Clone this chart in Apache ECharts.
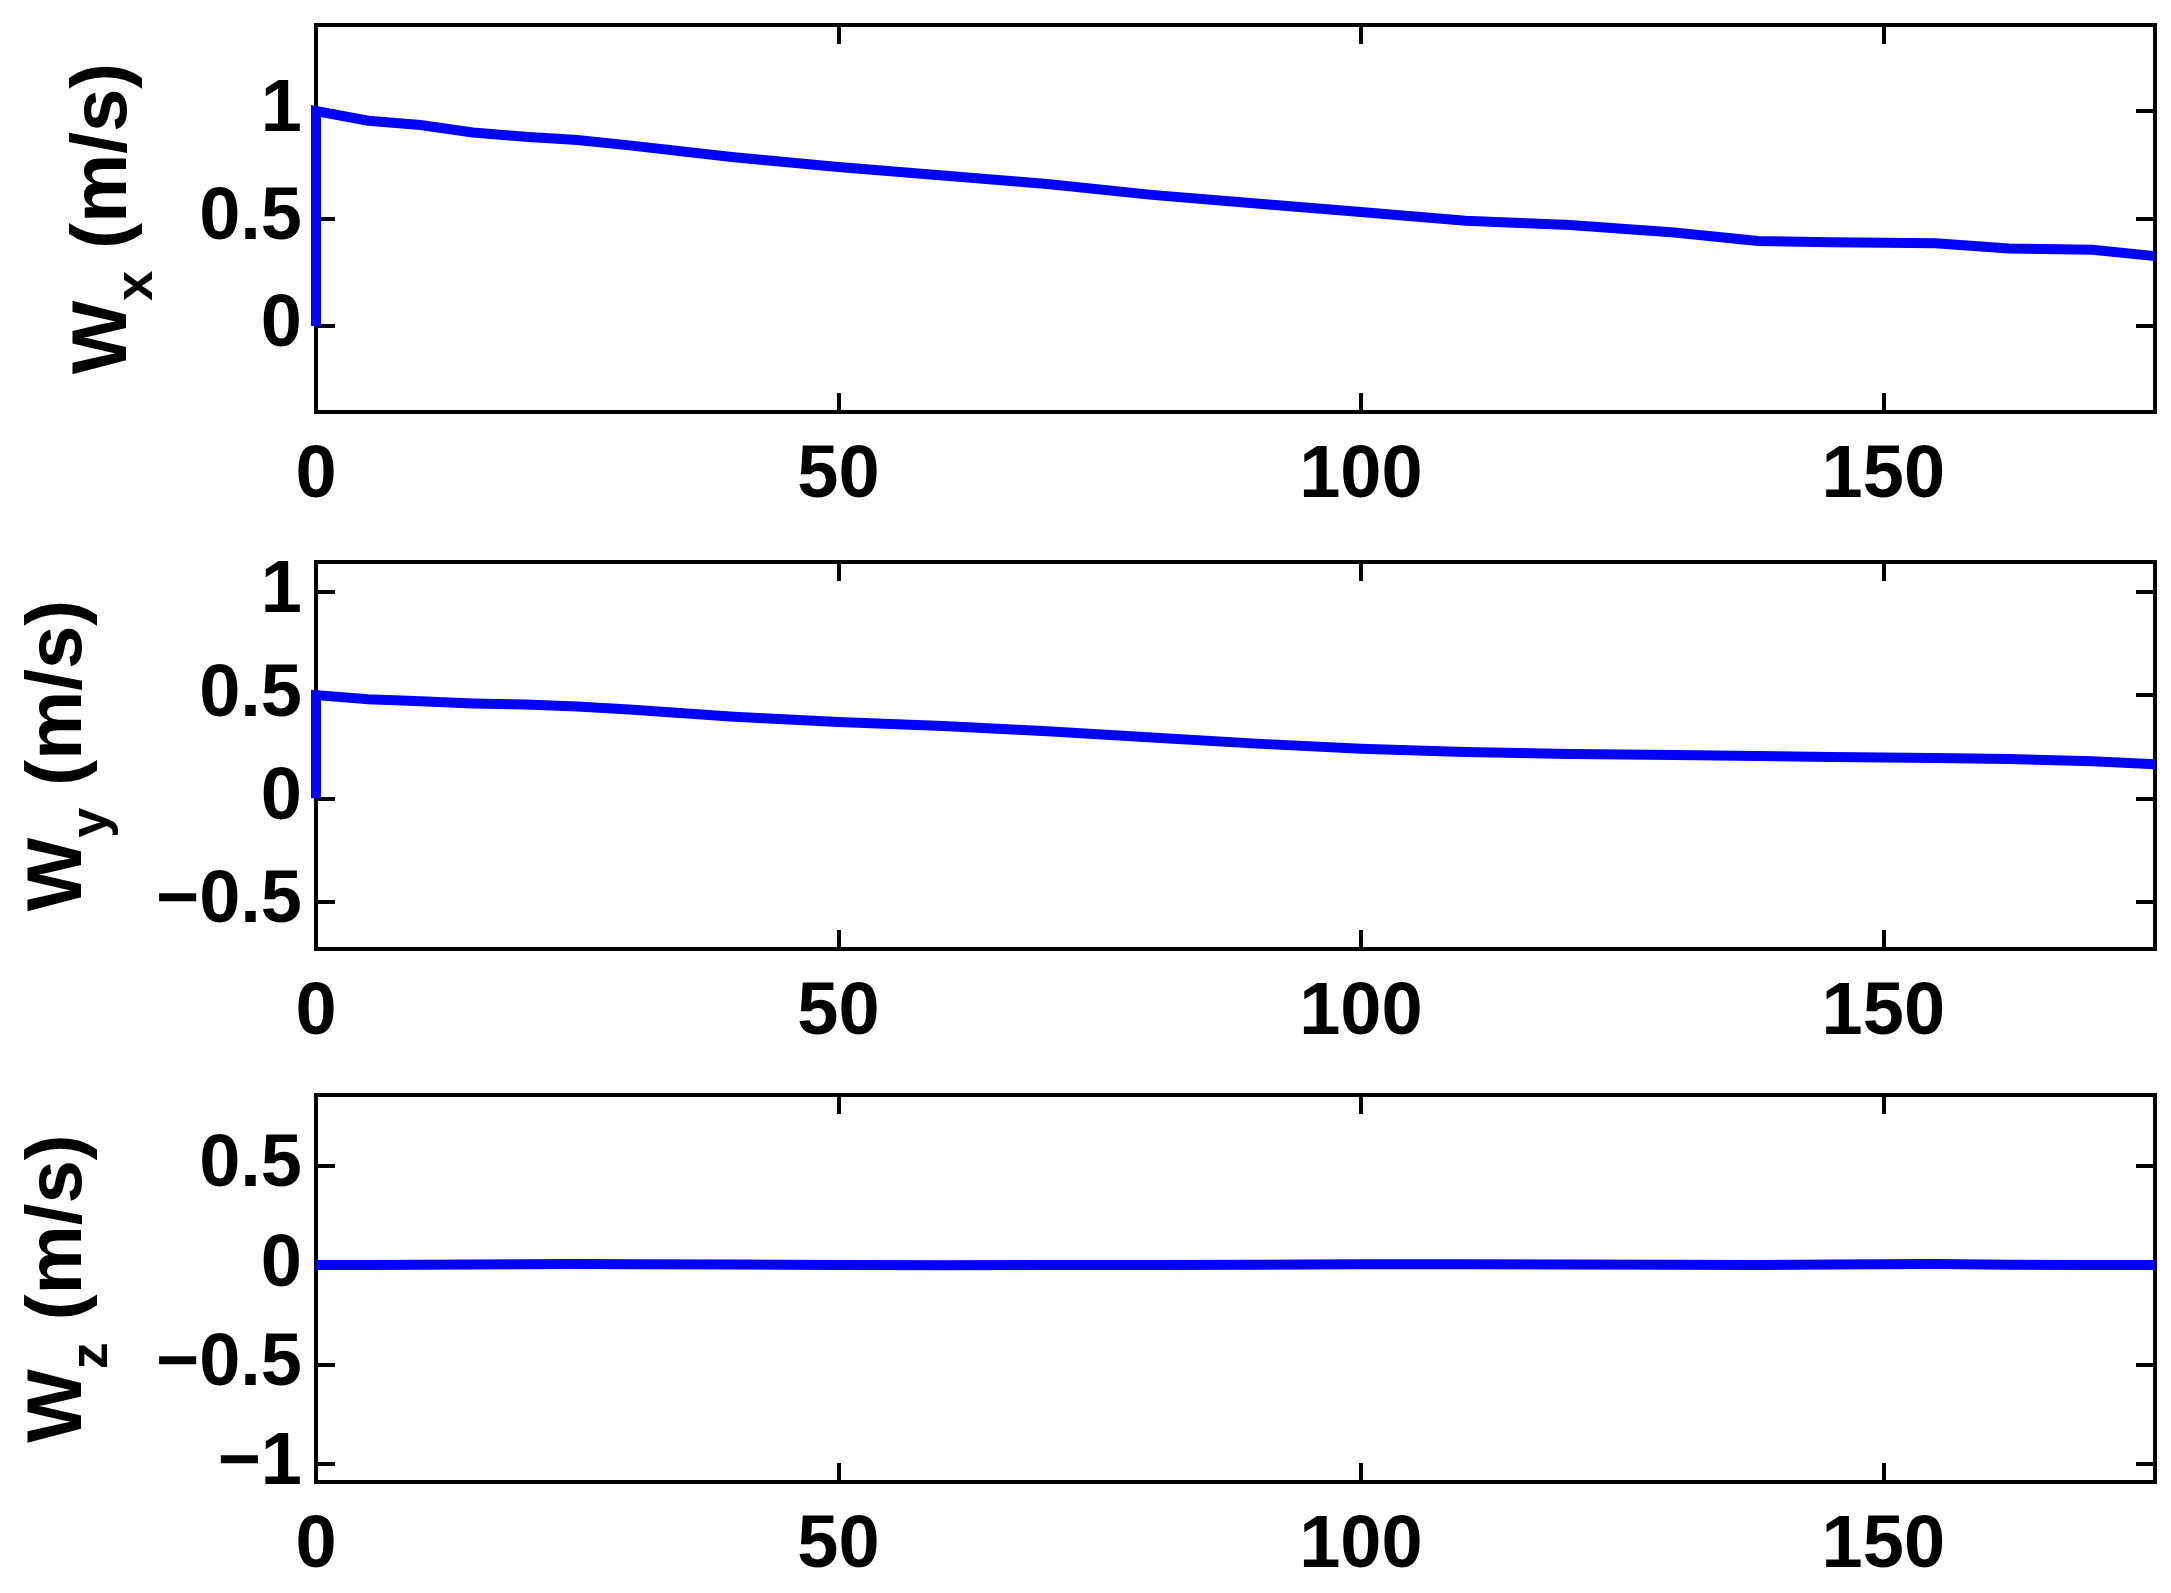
<!DOCTYPE html>
<html>
<head>
    <meta charset="utf-8">
    <title>W components</title>
    <script src="https://cdn.jsdelivr.net/npm/echarts@6/dist/echarts.min.js"></script>
    <style>
        html, body { margin: 0; padding: 0; background: #fff; }
        #main { width: 2171px; height: 1593px; }
    </style>
</head>
<body>
<div id="main"></div>
<script>
    // time axis (s) and the three velocity components
    var t  = [0, 0, 5, 10, 15, 20, 25, 30, 40, 50, 60, 70, 80, 90, 100, 110, 120, 130, 138, 145, 155, 162, 170, 176];
    var wx = [0, 1.0, 0.955, 0.935, 0.90, 0.88, 0.865, 0.84, 0.785, 0.74, 0.70, 0.66, 0.61, 0.57, 0.53, 0.49, 0.47, 0.435, 0.395, 0.39, 0.385, 0.36, 0.355, 0.325];
    var wy = [0, 0.50, 0.48, 0.47, 0.46, 0.455, 0.445, 0.43, 0.395, 0.37, 0.35, 0.325, 0.295, 0.265, 0.24, 0.225, 0.215, 0.21, 0.205, 0.20, 0.195, 0.19, 0.18, 0.165];
    var wz = [0, 0, 0, 0.002, 0.003, 0.005, 0.006, 0.004, 0.003, 0, -0.001, 0, 0.001, 0.002, 0.004, 0.005, 0.003, 0.002, 0, 0.003, 0.006, 0.002, 0, 0.001];

    var xTicks = [0, 50, 100, 150];
    var yTicks = [[0, 0.5, 1], [-0.5, 0, 0.5, 1], [-1, -0.5, 0, 0.5]];
    var yRange = [[-0.4, 1.4], [-0.73, 1.145], [-1.09, 0.855]];
    var subs = ['x', 'y', 'z'];
    var series = [wx, wy, wz];

    var FONT = 'Liberation Sans';
    var tops = [25, 562, 1095];
    var nameGaps = [152, 197, 197];

    function fmt(v) {
        return String(v).replace('-', '\u2212');
    }

    var grids = [], xAxes = [], yAxes = [], seriesList = [];
    for (var i = 0; i < 3; i++) {
        grids.push({
            left: 316, right: 16, top: tops[i], height: 387,
            show: true, borderColor: '#000', borderWidth: 4, backgroundColor: 'transparent'
        });
        var tick = { show: true, inside: true, length: 19, lineStyle: { color: '#000', width: 4 } };
        var noLine = { show: false, onZero: false };
        // bottom x axis with labels
        xAxes.push({
            type: 'value', gridIndex: i, min: 0, max: 176, position: 'bottom',
            axisLine: noLine, splitLine: { show: false },
            axisTick: Object.assign({ customValues: xTicks }, tick),
            axisLabel: { customValues: xTicks, fontFamily: FONT, fontWeight: 'bold', fontSize: 74, color: '#000', margin: 28 }
        });
        // top x axis, ticks only
        xAxes.push({
            type: 'value', gridIndex: i, min: 0, max: 176, position: 'top',
            axisLine: noLine, splitLine: { show: false },
            axisTick: Object.assign({ customValues: xTicks }, tick),
            axisLabel: { show: false }
        });
        yAxes.push({
            type: 'value', gridIndex: i, min: yRange[i][0], max: yRange[i][1], position: 'left',
            axisLine: noLine, splitLine: { show: false },
            axisTick: Object.assign({ customValues: yTicks[i] }, tick),
            axisLabel: { customValues: yTicks[i], formatter: fmt, fontFamily: FONT, fontWeight: 'bold', fontSize: 74, color: '#000', margin: 14 },
            name: '{w|W}{s|' + subs[i] + '}{w| (m/s)}',
            nameLocation: 'middle', nameRotate: 90, nameGap: nameGaps[i],
            nameTextStyle: {
                rich: {
                    w: { fontFamily: FONT, fontWeight: 'bold', fontSize: 78, color: '#000', lineHeight: 120, verticalAlign: 'middle' },
                    s: { fontFamily: FONT, fontWeight: 'bold', fontSize: 54, color: '#000', lineHeight: 24, verticalAlign: 'bottom' }
                }
            }
        });
        yAxes.push({
            type: 'value', gridIndex: i, min: yRange[i][0], max: yRange[i][1], position: 'right',
            axisLine: noLine, splitLine: { show: false },
            axisTick: Object.assign({ customValues: yTicks[i] }, tick),
            axisLabel: { show: false }
        });
        var pts = [];
        for (var k = 0; k < t.length; k++) pts.push([t[k], series[i][k]]);
        seriesList.push({
            type: 'line', xAxisIndex: i * 2, yAxisIndex: i * 2, data: pts,
            showSymbol: false, symbol: 'none', animation: false,
            lineStyle: { color: '#0000ff', width: 10, join: 'miter' }
        });
    }

    var myChart = echarts.init(document.getElementById('main'));
    myChart.setOption({
        animation: false,
        grid: grids,
        xAxis: xAxes,
        yAxis: yAxes,
        series: seriesList
    });
</script>
</body>
</html>
